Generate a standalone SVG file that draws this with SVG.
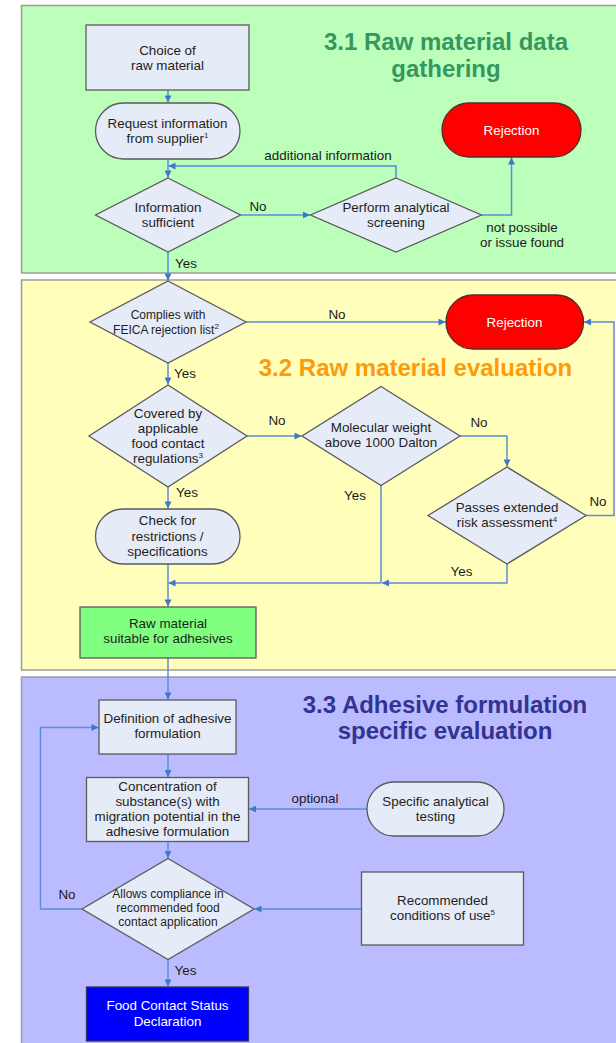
<svg xmlns="http://www.w3.org/2000/svg" width="616" height="1043" viewBox="0 0 616 1043">
<defs>
<style>
.panel{stroke:#9c9c9c;stroke-width:1.5}
.node{fill:#e6ebf8;stroke:#5a5a5a;stroke-width:1.3}
.t{font-family:"Liberation Sans",Arial,sans-serif;font-size:13.4px;fill:#1e1e1e;text-anchor:middle}
.ts{font-size:12px}
.lbl{font-family:"Liberation Sans",Arial,sans-serif;font-size:13.4px;fill:#1a1a1a;text-anchor:middle}
.title{font-family:"Liberation Sans",Arial,sans-serif;font-size:24px;font-weight:bold;text-anchor:middle}
.w{fill:#ffffff}
.c{fill:none;stroke:#5b8fd6;stroke-width:1.5}
</style>
<marker id="ah" viewBox="0 0 8 8" refX="8" refY="4" markerWidth="8" markerHeight="7" markerUnits="userSpaceOnUse" orient="auto">
<path d="M0,0 L8,4 L0,8 z" fill="#3f77c9"/>
</marker>
</defs>
<rect x="0" y="0" width="616" height="1043" fill="#ffffff"/>
<g id="panels">
<rect class="panel" x="21.5" y="5.5" width="610" height="267.5" fill="#bbffbb"/>
<rect class="panel" x="21.5" y="280" width="610" height="390" fill="#ffffbb"/>
<rect class="panel" x="21.5" y="677" width="610" height="380" fill="#bbbbff"/>
</g>
<g id="titles">
<text class="title" x="446" y="50" fill="#35975f">3.1 Raw material data</text>
<text class="title" x="446" y="77" fill="#35975f">gathering</text>
<text class="title" x="415.5" y="376" fill="#ff9b0a">3.2 Raw material evaluation</text>
<text class="title" x="445" y="712.5" fill="#333391">3.3 Adhesive formulation</text>
<text class="title" x="445" y="738.5" fill="#333391">specific evaluation</text>
</g>
<g id="connectors">
<path class="c" d="M168,90 V102.5" marker-end="url(#ah)"/>
<path class="c" d="M168,159 V177.5" marker-end="url(#ah)"/>
<path class="c" d="M396,178 V166 H168.5" marker-end="url(#ah)"/>
<path class="c" d="M240.5,215 H310" marker-end="url(#ah)"/>
<path class="c" d="M481.5,215 H511.5 V157.5" marker-end="url(#ah)"/>
<path class="c" d="M168,252 V280.5" marker-end="url(#ah)"/>
<path class="c" d="M246,322 H445.5" marker-end="url(#ah)"/>
<path class="c" d="M168,363 V384.5" marker-end="url(#ah)"/>
<path class="c" d="M247,436 H301.5" marker-end="url(#ah)"/>
<path class="c" d="M460,436 H507 V466.5" marker-end="url(#ah)"/>
<path class="c" d="M586,515.5 H614 V322 H584" marker-end="url(#ah)"/>
<path class="c" d="M381,485.5 V583"/>
<path class="c" d="M507,564 V583 H382" marker-end="url(#ah)"/>
<path class="c" d="M381,583 H168.5" marker-end="url(#ah)"/>
<path class="c" d="M168,487 V508.5" marker-end="url(#ah)"/>
<path class="c" d="M168,564 V606.5" marker-end="url(#ah)"/>
<path class="c" d="M168,658 V699.5" marker-end="url(#ah)"/>
<path class="c" d="M168,754 V777" marker-end="url(#ah)"/>
<path class="c" d="M367,809 H249" marker-end="url(#ah)"/>
<path class="c" d="M168,842 V858" marker-end="url(#ah)"/>
<path class="c" d="M361.5,909 H254.5" marker-end="url(#ah)"/>
<path class="c" d="M82,909 H40.5 V727.5 H98.5" marker-end="url(#ah)"/>
<path class="c" d="M168,959.5 V986.5" marker-end="url(#ah)"/>
</g>
<g id="connector-labels">
<text class="lbl" x="328" y="159.5">additional information</text>
<text class="lbl" x="258" y="210.5">No</text>
<text class="lbl" x="522" y="232">not possible</text>
<text class="lbl" x="522" y="246.5">or issue found</text>
<text class="lbl" x="186" y="268">Yes</text>
<text class="lbl" x="337" y="319">No</text>
<text class="lbl" x="185" y="377.5">Yes</text>
<text class="lbl" x="277" y="425">No</text>
<text class="lbl" x="479" y="426.5">No</text>
<text class="lbl" x="598" y="505.5">No</text>
<text class="lbl" x="355" y="500">Yes</text>
<text class="lbl" x="187" y="496.5">Yes</text>
<text class="lbl" x="461.5" y="575.5">Yes</text>
<text class="lbl" x="315" y="803">optional</text>
<text class="lbl" x="67" y="898.5">No</text>
<text class="lbl" x="185.5" y="975">Yes</text>
</g>
<g id="n-choice">
<rect class="node" x="86" y="25" width="163" height="65"/>
<text class="t" x="167.5" y="54.5">Choice of</text>
<text class="t" x="167.5" y="69.5">raw material</text>
</g>
<g id="n-request">
<rect class="node" x="95.5" y="103" width="144.5" height="56" rx="28"/>
<text class="t" x="167.5" y="128">Request information</text>
<text class="t" x="167.5" y="143">from supplier<tspan font-size="8" dy="-5">1</tspan></text>
</g>
<g id="n-info">
<path class="node" d="M168,178 L240.5,215 L168,252 L95.5,215 Z"/>
<text class="t" x="168" y="211.5">Information</text>
<text class="t" x="168" y="226.5">sufficient</text>
</g>
<g id="n-screening">
<path class="node" d="M396,178 L481.5,215 L396,252 L310.5,215 Z"/>
<text class="t" x="396" y="211.5">Perform analytical</text>
<text class="t" x="396" y="226.5">screening</text>
</g>
<g id="n-rejection1">
<rect x="442" y="103" width="139" height="54" rx="27" fill="#ff0000" stroke="#5a2a2a" stroke-width="1.3"/>
<text class="t w" x="511.5" y="134.5">Rejection</text>
</g>
<g id="n-complies">
<path class="node" d="M168,281 L246,322 L168,363 L90,322 Z"/>
<text class="t ts" x="168" y="318.5">Complies with</text>
<text class="t ts" x="166" y="333.5">FEICA rejection list<tspan font-size="8" dy="-5">2</tspan></text>
</g>
<g id="n-rejection2">
<rect x="446" y="295" width="137.5" height="54" rx="27" fill="#ff0000" stroke="#5a2a2a" stroke-width="1.3"/>
<text class="t w" x="514.5" y="326.5">Rejection</text>
</g>
<g id="n-covered">
<path class="node" d="M168,385 L247,436 L168,487 L89,436 Z"/>
<text class="t" x="168" y="417.5">Covered by</text>
<text class="t" x="168" y="432.5">applicable</text>
<text class="t" x="168" y="447.5">food contact</text>
<text class="t" x="168" y="462.5">regulations<tspan font-size="8" dy="-5">3</tspan></text>
</g>
<g id="n-molecular">
<path class="node" d="M381,386.5 L460,436 L381,485.5 L302,436 Z"/>
<text class="t" x="381" y="432">Molecular weight</text>
<text class="t" x="381" y="447">above 1000 Dalton</text>
</g>
<g id="n-passes">
<path class="node" d="M507,467 L586,515.5 L507,564 L428,515.5 Z"/>
<text class="t" x="507" y="512">Passes extended</text>
<text class="t" x="507" y="527">risk assessment<tspan font-size="8" dy="-5">4</tspan></text>
</g>
<g id="n-check">
<rect class="node" x="95.5" y="509" width="144.5" height="55" rx="27.5"/>
<text class="t" x="167.5" y="525">Check for</text>
<text class="t" x="167.5" y="540.5">restrictions /</text>
<text class="t" x="167.5" y="556">specifications</text>
</g>
<g id="n-raw">
<rect x="80" y="607" width="176" height="51" fill="#80ff80" stroke="#5a5a5a" stroke-width="1.3"/>
<text class="t" x="168" y="627.5">Raw material</text>
<text class="t" x="168" y="642.5">suitable for adhesives</text>
</g>
<g id="n-definition">
<rect class="node" x="99" y="700" width="137" height="54"/>
<text class="t" x="167.5" y="722.5">Definition of adhesive</text>
<text class="t" x="167.5" y="737.5">formulation</text>
</g>
<g id="n-concentration">
<rect class="node" x="86.5" y="777.5" width="162" height="64"/>
<text class="t" x="167.5" y="790.5">Concentration of</text>
<text class="t" x="167.5" y="805.5">substance(s) with</text>
<text class="t" x="167.5" y="820.5">migration potential in the</text>
<text class="t" x="167.5" y="835.5">adhesive formulation</text>
</g>
<g id="n-specific">
<rect class="node" x="367" y="782" width="137" height="54" rx="27"/>
<text class="t" x="435.5" y="806">Specific analytical</text>
<text class="t" x="435.5" y="821">testing</text>
</g>
<g id="n-allows">
<path class="node" d="M168,858.5 L254,909 L168,959.5 L82,909 Z"/>
<text class="t ts" x="168" y="898">Allows compliance in</text>
<text class="t ts" x="168" y="912">recommended food</text>
<text class="t ts" x="168" y="926">contact application</text>
</g>
<g id="n-recommended">
<rect class="node" x="361.5" y="872" width="162" height="73"/>
<text class="t" x="442.5" y="905">Recommended</text>
<text class="t" x="442.5" y="920">conditions of use<tspan font-size="8" dy="-5">5</tspan></text>
</g>
<g id="n-food">
<rect x="86.5" y="987" width="162" height="54" fill="#0000ff" stroke="#333366" stroke-width="1.3"/>
<text class="t w" x="167.5" y="1010">Food Contact Status</text>
<text class="t w" x="167.5" y="1025.5">Declaration</text>
</g>
</svg>
